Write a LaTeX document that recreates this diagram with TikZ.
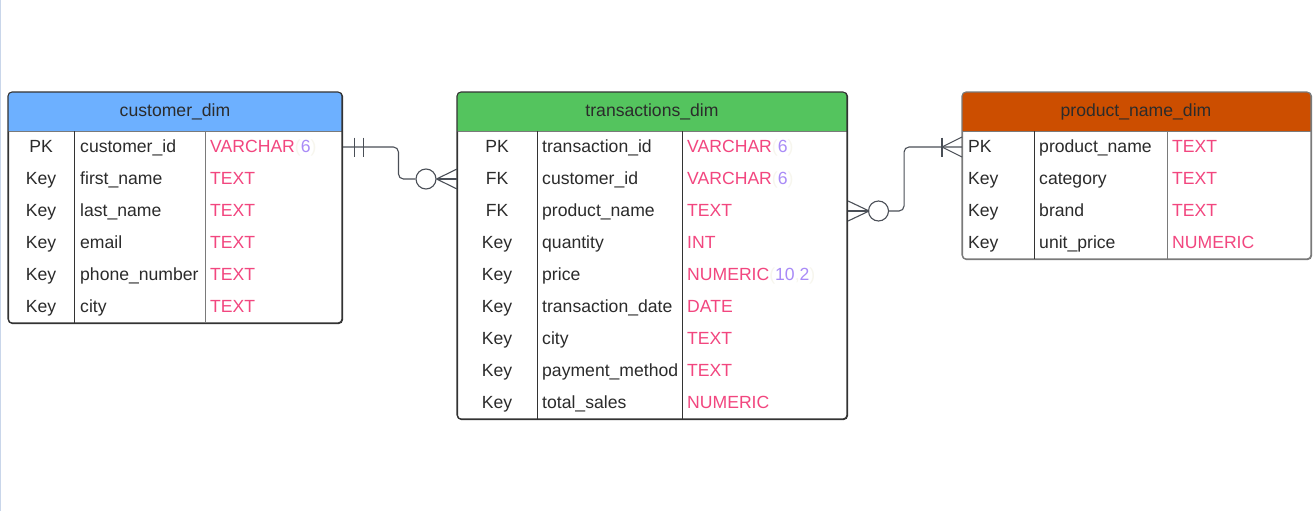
\documentclass[tikz,border=0pt]{standalone}
\usepackage{fontspec}
\setmainfont{Liberation Sans}
\usetikzlibrary{calc}
\definecolor{hblue}{HTML}{6DB0FF}
\definecolor{hgreen}{HTML}{54C45E}
\definecolor{horange}{HTML}{CC4E00}
\definecolor{typepink}{HTML}{F2467F}
\definecolor{typepurple}{HTML}{A98BF7}
\definecolor{faint}{HTML}{F7F6EE}
\definecolor{txt}{HTML}{2B2B2B}
\definecolor{edge}{HTML}{333333}
\definecolor{divgray}{HTML}{7A7A7A}
\definecolor{relcol}{HTML}{4A4F57}
\definecolor{leftline}{HTML}{C9D6EA}
\newcommand{\typ}[1]{\textcolor{typepink}{#1}}
\newcommand{\vch}{\textcolor{typepink}{VARCHAR}\textcolor{faint}{(}\textcolor{typepurple}{6}\textcolor{faint}{)}}
\begin{document}
\begin{tikzpicture}[x=1pt,y=-1pt,
  font=\fontsize{17.6}{20}\selectfont,
  tbl/.style={draw=edge, line width=1.1pt, rounded corners=4, minimum height=0pt, inner sep=0pt, anchor=north west},
  htext/.style={text=txt, anchor=base, inner sep=0pt},
  ktext/.style={text=txt, anchor=base, inner sep=0pt},
  kltext/.style={text=txt, anchor=base west, inner sep=0pt},
  ntext/.style={text=txt, anchor=base west, inner sep=0pt},
  ttext/.style={anchor=base west, inner sep=0pt},
  coldiv/.style={draw=edge, line width=1pt},
  coldivg/.style={draw=divgray, line width=1pt},
  hline/.style={draw=divgray, line width=1pt},
  rel/.style={draw=relcol, line width=1.1pt},
  ring/.style={circle, draw=relcol, line width=1.1pt, minimum size=20pt, inner sep=0pt, fill=white}]
\useasboundingbox (0,0) rectangle (1316,511);
\fill[white] (0,0) rectangle (1316,511);
\draw[leftline, line width=1.2pt] (0.6,0) -- (0.6,511);

% row coordinates
\foreach \i in {1,...,9} {\coordinate (r\i) at (0,{147+32*(\i-1)});}

% ---------------- customer_dim ----------------
\node[tbl, minimum width=334pt, minimum height=231pt] (cust) at (8,92) {};
\begin{scope}
\clip[rounded corners=4] (8,92) rectangle (342,323);
\fill[hblue] (8,92) rectangle (342,131);
\end{scope}
\draw[hline] (8,131) -- (342,131);
\draw[tbl] (8,92) rectangle (342,323);
\draw[coldiv] (74,131) -- (74,323);
\draw[coldivg] (205,131) -- (205,323);
\node[htext] (custh) at (175,116) {customer\_dim};
\foreach \k/\n/\t [count=\i] in {PK/customer\_id/\vch, Key/first\_name/\typ{TEXT}, Key/last\_name/\typ{TEXT}, Key/email/\typ{TEXT}, Key/phone\_number/\typ{TEXT}, Key/city/\typ{TEXT}} {
  \node[ktext] (ck\i) at (41,{152+32*(\i-1)}) {\k};
  \node[ntext] (cn\i) at (80,{152+32*(\i-1)}) {\n};
  \node[ttext] (ct\i) at (210,{152+32*(\i-1)}) {\t};
}

% ---------------- transactions_dim ----------------
\node[tbl, minimum width=390pt, minimum height=327pt] (trans) at (457,92) {};
\begin{scope}
\clip[rounded corners=4] (457,92) rectangle (847,419);
\fill[hgreen] (457,92) rectangle (847,131);
\end{scope}
\draw[hline] (457,131) -- (847,131);
\draw[tbl] (457,92) rectangle (847,419);
\draw[coldiv] (537,131) -- (537,419);
\draw[coldiv] (682,131) -- (682,419);
\node[htext] (transh) at (652,116) {transactions\_dim};
\foreach \k/\n/\t [count=\i] in {PK/transaction\_id/\vch, FK/customer\_id/\vch, FK/product\_name/\typ{TEXT}, Key/quantity/\typ{INT}, Key/price/{\typ{NUMERIC}\textcolor{faint}{(}\textcolor{typepurple}{10}\textcolor{faint}{,}\textcolor{typepurple}{2}\textcolor{faint}{)}}, Key/transaction\_date/\typ{DATE}, Key/city/\typ{TEXT}, Key/payment\_method/\typ{TEXT}, Key/total\_sales/\typ{NUMERIC}} {
  \node[ktext] (tk\i) at (497,{152+32*(\i-1)}) {\k};
  \node[ntext] (tn\i) at (542,{152+32*(\i-1)}) {\n};
  \node[ttext] (tt\i) at (687,{152+32*(\i-1)}) {\t};
}

% ---------------- product_name_dim ----------------
\node[tbl, draw=divgray, minimum width=349pt, minimum height=167pt] (prod) at (962,92) {};
\begin{scope}
\clip[rounded corners=4] (962,92) rectangle (1311,259);
\fill[horange] (962,92) rectangle (1311,131);
\end{scope}
\draw[hline] (962,131) -- (1311,131);
\draw[tbl, draw=divgray] (962,92) rectangle (1311,259);
\draw[coldiv] (1034,131) -- (1034,259);
\draw[coldivg] (1167,131) -- (1167,259);
\node[htext] (prodh) at (1136,116) {product\_name\_dim};
\foreach \k/\n/\t [count=\i] in {PK/product\_name/\typ{TEXT}, Key/category/\typ{TEXT}, Key/brand/\typ{TEXT}, Key/unit\_price/\typ{NUMERIC}} {
  \node[kltext] (pk\i) at (968,{152+32*(\i-1)}) {\k};
  \node[ntext] (pn\i) at (1039,{152+32*(\i-1)}) {\n};
  \node[ttext] (pt\i) at (1172,{152+32*(\i-1)}) {\t};
}

% ---------------- relationship customer -> transactions ----------------
\node[ring] (o1) at (426,179) {};
\draw[rel, rounded corners=5] (cust.east |- r1) -| ($(o1.west)+(-17,0)$) -- (o1.west);
\draw[rel] ($(cust.east |- r1)+(11,-9.5)$) -- ++(0,19);
\draw[rel] ($(cust.east |- r1)+(20,-9.5)$) -- ++(0,19);
\draw[rel] (o1.east) -- ($(trans.west |- r2)+(0,-10)$);
\draw[rel] (o1.east) -- (trans.west |- r2);
\draw[rel] (o1.east) -- ($(trans.west |- r2)+(0,10)$);

% ---------------- relationship transactions -> product ----------------
\node[ring] (o2) at (878.5,211) {};
\coordinate (cf2) at ($(trans.east |- r3)+(21,0)$);
\draw[rel] (cf2) -- ($(trans.east |- r3)+(0,-10)$);
\draw[rel] (cf2) -- (trans.east |- r3);
\draw[rel] (cf2) -- ($(trans.east |- r3)+(0,10)$);
\draw[rel, rounded corners=5] (o2.east) -| ($(o2.east)+(15,-64)$) -- (prod.west |- r1);
\coordinate (cf3) at ($(prod.west |- r1)+(-20,0)$);
\draw[rel] (cf3) -- ($(prod.west |- r1)+(0,-10)$);
\draw[rel] (cf3) -- ($(prod.west |- r1)+(0,10)$);
\draw[rel] ($(cf3)+(0,-9.5)$) -- ++(0,19);
\end{tikzpicture}
\end{document}
